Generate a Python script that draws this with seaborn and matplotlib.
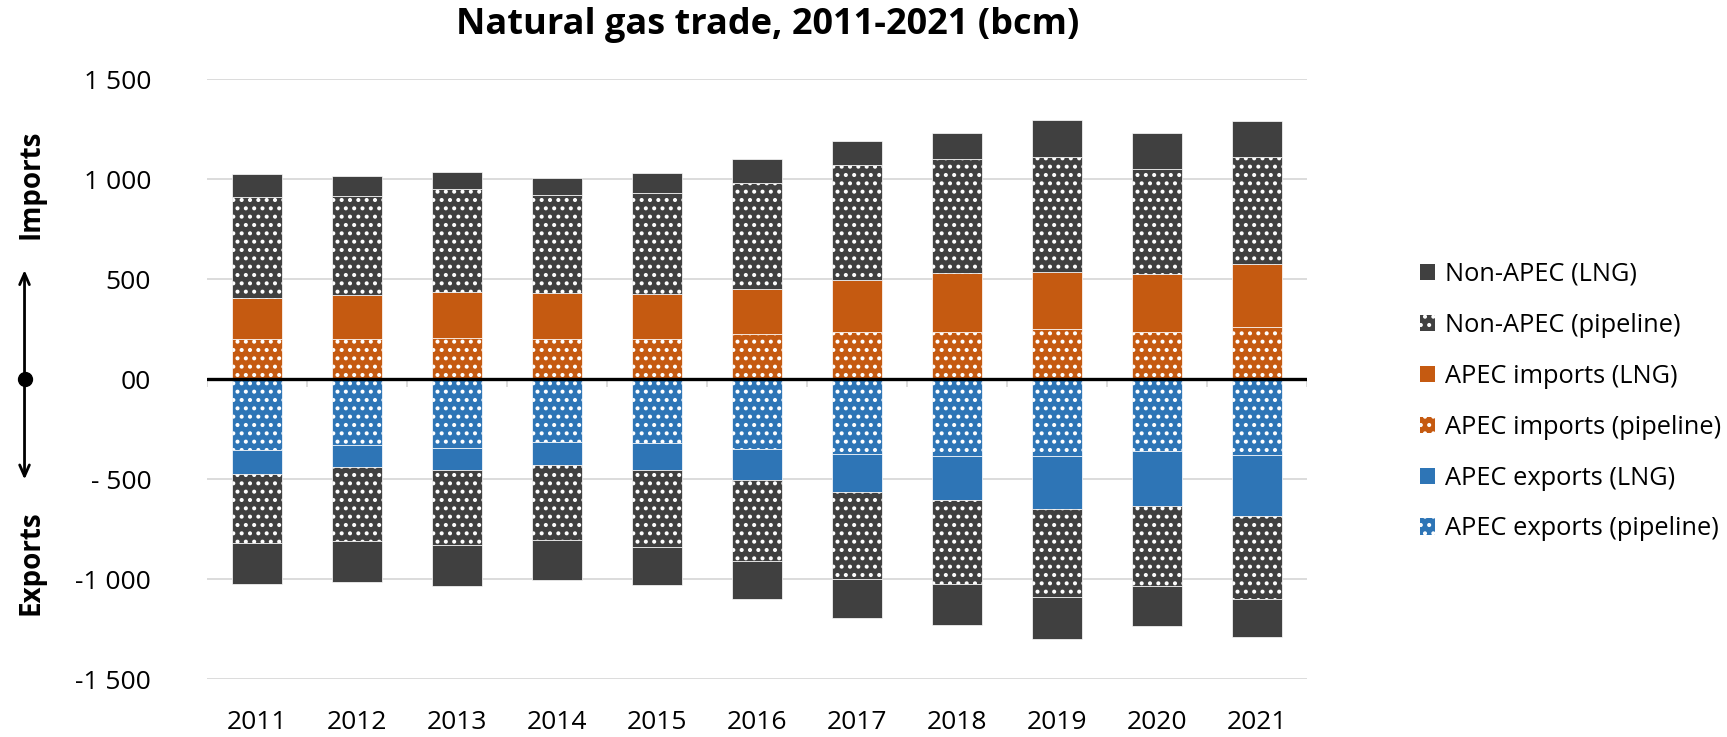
import numpy as np
import matplotlib.pyplot as plt
import matplotlib.transforms as mtransforms
from matplotlib.patches import Patch
import seaborn as sns

# Natural gas trade, bcm
years = [str(y) for y in range(2011, 2022)]

# imports, stacked upward from zero
apec_imp_pipeline = [201, 201, 205, 200, 203, 225, 238, 238, 250, 237, 263]
apec_imp_lng = [204, 220, 230, 230, 223, 228, 257, 292, 287, 288, 312]
nonapec_imp_pipeline = [505, 495, 515, 491, 504, 527, 575, 570, 576, 525, 535]
nonapec_imp_lng = [116, 100, 85, 84, 100, 120, 123, 130, 184, 183, 183]

# exports, stacked downward from zero
apec_exp_pipeline = [353, 330, 342, 312, 318, 348, 376, 386, 386, 361, 381]
apec_exp_lng = [120, 110, 110, 115, 134, 154, 187, 219, 261, 274, 302]
nonapec_exp_pipeline = [347, 370, 378, 375, 385, 405, 434, 421, 440, 397, 414]
nonapec_exp_lng = [205, 205, 203, 203, 193, 193, 196, 204, 210, 200, 193]

ytick_values = [-1500, -1000, -500, 0, 500, 1000, 1500]
ytick_labels = ["-1 500", "-1 000", "- 500", "00", "500", "1 000", "1 500"]

GREY = "#404040"
ORANGE = "#C55A11"
BLUE = "#2E75B6"
DOTS = ".."

sns.set_style("white")
plt.rcParams["font.family"] = ["Open Sans", "DejaVu Sans"]
plt.rcParams["hatch.linewidth"] = 1.7
plt.rcParams["text.color"] = "black"
plt.rcParams["xtick.color"] = "black"
plt.rcParams["ytick.color"] = "black"

fig = plt.figure(figsize=(17.27, 7.37), dpi=100)
ax = fig.add_axes([0.1197, 0.0783, 0.6369, 0.8141])


def stack(segments, sign):
    base = np.zeros(len(years))
    for values, color, hatch in segments:
        h = sign * np.array(values, dtype=float)
        sns.barplot(x=years, y=h, bottom=base, color=color, saturation=1,
                    hatch=hatch, width=0.5, edgecolor="white", linewidth=0.5,
                    errorbar=None, ax=ax, zorder=2)
        base = base + h


stack([(apec_imp_pipeline, ORANGE, DOTS),
       (apec_imp_lng, ORANGE, None),
       (nonapec_imp_pipeline, GREY, DOTS),
       (nonapec_imp_lng, GREY, None)], 1)
stack([(apec_exp_pipeline, BLUE, DOTS),
       (apec_exp_lng, BLUE, None),
       (nonapec_exp_pipeline, GREY, DOTS),
       (nonapec_exp_lng, GREY, None)], -1)

ax.set_xlim(-0.5, len(years) - 0.5)
ax.set_ylim(-1500, 1500)
ax.set_yticks(ytick_values)
ax.set_yticklabels(ytick_labels)
ax.yaxis.grid(True, color="#d9d9d9", linewidth=1.3)
ax.set_axisbelow(True)
ax.axhline(0, color="black", linewidth=2.4, zorder=4)
ax.vlines(np.arange(len(years) + 1) - 0.5, -40, 0, color="#d9d9d9", linewidth=1.3, zorder=1)
ax.tick_params(axis="y", length=0, pad=40, labelsize=19, labelcolor="black")
ax.tick_params(axis="x", length=0, pad=22, labelsize=19, labelcolor="black")
ax.set_xlabel("")
ax.set_ylabel("")
sns.despine(ax=ax, left=True, bottom=True)

fig.text(0.4447, 0.966, "Natural gas trade, 2011-2021 (bcm)", ha="center", va="center",
         fontsize=26, fontweight="bold", color="black")

# Imports / Exports direction marker on the left
trans = mtransforms.blended_transform_factory(fig.transFigure, ax.transData)
xa = 0.0142
arrow = dict(arrowstyle="->,head_length=0.8,head_width=0.35", lw=2, color="black")
ax.annotate("", xy=(xa, 560), xytext=(xa, 0), xycoords=trans, textcoords=trans,
            arrowprops=arrow, annotation_clip=False)
ax.annotate("", xy=(xa, -515), xytext=(xa, 0), xycoords=trans, textcoords=trans,
            arrowprops=arrow, annotation_clip=False)
ax.plot([xa], [0], marker="o", markersize=10, color="black", transform=trans, clip_on=False)
ax.text(0.018, 975, "Imports", rotation=90, ha="center", va="center", fontsize=20,
        fontweight="bold", transform=trans)
ax.text(0.018, -915, "Exports", rotation=90, ha="center", va="center", fontsize=20,
        fontweight="bold", transform=trans)

handles = [
    Patch(facecolor=GREY, edgecolor="white", linewidth=0, label="Non-APEC (LNG)"),
    Patch(facecolor=GREY, edgecolor="white", linewidth=0, hatch=DOTS, label="Non-APEC (pipeline)"),
    Patch(facecolor=ORANGE, edgecolor="white", linewidth=0, label="APEC imports (LNG)"),
    Patch(facecolor=ORANGE, edgecolor="white", linewidth=0, hatch=DOTS, label="APEC imports (pipeline)"),
    Patch(facecolor=BLUE, edgecolor="white", linewidth=0, label="APEC exports (LNG)"),
    Patch(facecolor=BLUE, edgecolor="white", linewidth=0, hatch=DOTS, label="APEC exports (pipeline)"),
]
fig.legend(handles=handles, loc="center left", bbox_to_anchor=(0.822, 0.455), frameon=False,
           fontsize=18.3, handlelength=0.6, handleheight=0.6, handletextpad=0.4,
           labelspacing=1.02, borderpad=0, borderaxespad=0)

fig.savefig("out.png", dpi=100)
